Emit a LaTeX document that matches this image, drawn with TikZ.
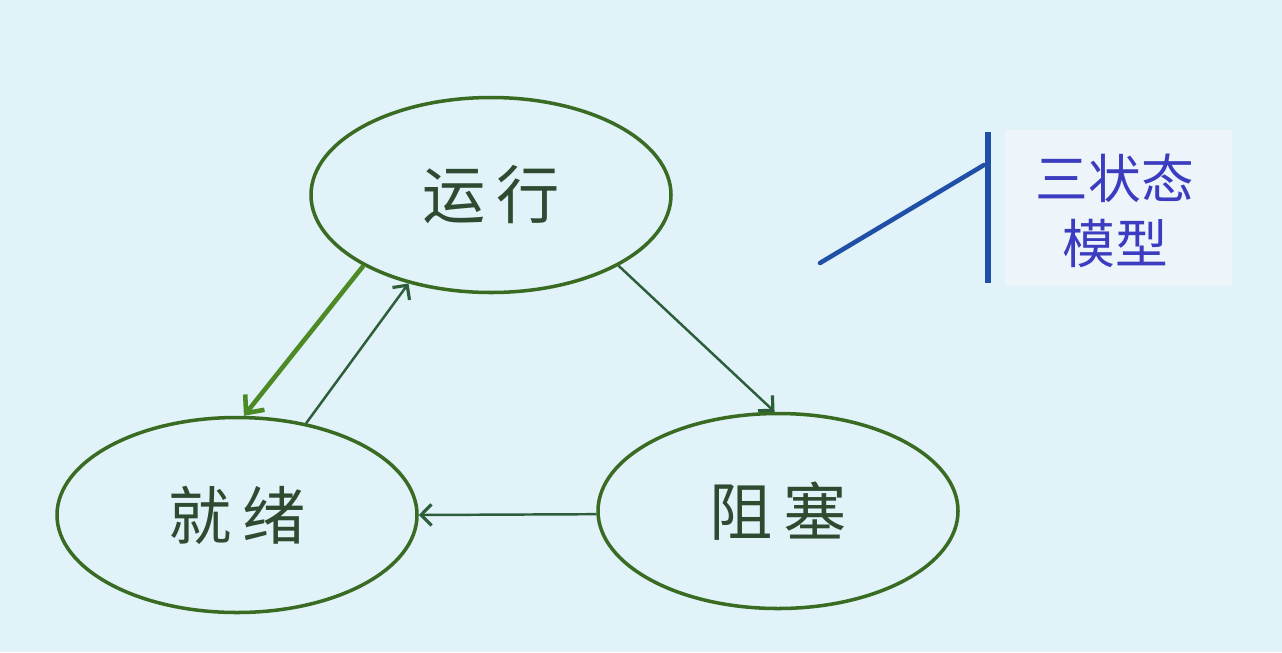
\documentclass[tikz,border=0pt]{standalone}
\usepackage{fontspec}
\newfontfamily\cjk{Noto Sans CJK SC}
\usetikzlibrary{arrows.meta,shapes.geometric}
\definecolor{bgc}{HTML}{E1F2F9}
\definecolor{ellc}{HTML}{3A6B22}
\definecolor{txtc}{HTML}{2E4A30}
\definecolor{thickc}{HTML}{4C8A26}
\definecolor{thinc}{HTML}{2D5E3A}
\definecolor{bluec}{HTML}{1F4FA6}
\definecolor{labc}{HTML}{3C3CC0}
\definecolor{boxc}{HTML}{EDF5FA}
\tikzset{
  state/.style={ellipse, draw=ellc, line width=2pt, minimum width=7.2cm, minimum height=3.9cm, inner sep=0pt,
    font=\cjk\fontsize{36}{40}\selectfont, text=txtc},
  thickarrow/.style={draw=thickc, line width=2.6pt, -{Straight Barb[length=8pt,width=14pt,line width=2.6pt]}},
  thinarrow/.style={draw=thinc, line width=1.4pt, -{Straight Barb[length=6pt,width=12pt,line width=1.8pt]}},
  blueline/.style={draw=bluec, line width=3pt},
}
\begin{document}
\begin{tikzpicture}
\fill[bgc] (0,0) rectangle (25.64,-13.04);
\useasboundingbox (0,0) rectangle (25.64,-13.04);
\node[state] (run) at (9.82,-3.90) {运\,行};
\node[state] (ready) at (4.74,-10.30) {就\,绪};
\node[state] (block) at (15.56,-10.22) {阻\,塞};
\draw[thickarrow] (run.209.5) -- (ready.86.6);
\draw[thinarrow] (ready.53) -- (run.227.8);
\draw[thinarrow] (run.331.5) -- (block.92);
\draw[thinarrow] (block.181) -- (ready.0);
\fill[boxc] (20.10,-2.60) rectangle (24.64,-5.70);
\coordinate (vtop) at (19.76,-2.64);
\coordinate (vbot) at (19.76,-5.66);
\coordinate (vjoin) at (19.68,-3.30);
\coordinate (dstart) at (16.40,-5.26);
\draw[blueline] (vtop) -- (vbot);
\draw[blueline, line width=2.6pt, line cap=round] (dstart) -- (vjoin);
\node[font=\cjk\fontsize{30}{37}\selectfont, text=labc, align=center] (lab) at (22.30,-4.22) {三状态\\模型};
\end{tikzpicture}
\end{document}
